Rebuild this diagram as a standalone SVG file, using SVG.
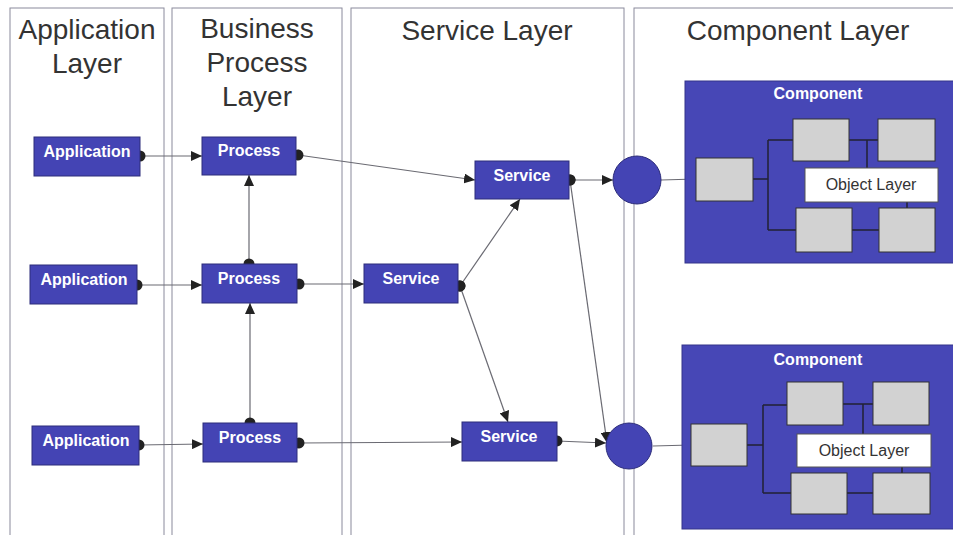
<svg xmlns="http://www.w3.org/2000/svg" width="953" height="535" viewBox="0 0 953 535">
<style>
.lane{fill:#ffffff;stroke:#8a8a9c;stroke-width:1}
.title{font-family:"Liberation Sans",Arial,sans-serif;font-size:28px;fill:#333333;text-anchor:middle}
.box{fill:#4444b4;stroke:#2c2c7a;stroke-width:1}
.lbl{font-family:"Liberation Sans",Arial,sans-serif;font-size:16px;font-weight:bold;fill:#ffffff;text-anchor:middle}
.comp{fill:#4747b6;stroke:#34348a;stroke-width:1}
.obj{fill:#d2d2d2;stroke:#333333;stroke-width:1}
.objlbl{fill:#ffffff;stroke:#555555;stroke-width:1}
.objtxt{font-family:"Liberation Sans",Arial,sans-serif;font-size:16px;fill:#333333;text-anchor:middle}
.port{fill:#4444b4;stroke:#2c2c7a;stroke-width:1}
.conn{stroke:#6a6a72;stroke-width:1.2;fill:none}
.arr{marker-start:url(#dot);marker-end:url(#arrow)}
.inner{stroke:#222233;stroke-width:1.5;fill:none}
</style>
<defs>
<marker id="arrow" markerUnits="userSpaceOnUse" markerWidth="12" markerHeight="10" refX="11" refY="5" orient="auto">
<path d="M0,0 L11,5 L0,10 z" fill="#222222"/>
</marker>
<marker id="dot" markerUnits="userSpaceOnUse" markerWidth="14" markerHeight="14" refX="7" refY="7" orient="auto">
<circle cx="7" cy="7" r="5.5" fill="#222222"/>
</marker>
</defs>
<rect width="953" height="535" fill="#ffffff"/>

<g id="lanes">
<g id="lane-application">
<rect class="lane" x="10" y="8" width="154" height="540"/>
<text class="title" x="87" y="39">Application</text>
<text class="title" x="87" y="73">Layer</text>
</g>
<g id="lane-business">
<rect class="lane" x="172" y="8" width="170" height="540"/>
<text class="title" x="257" y="38">Business</text>
<text class="title" x="257" y="72">Process</text>
<text class="title" x="257" y="106">Layer</text>
</g>
<g id="lane-service">
<rect class="lane" x="351" y="8" width="273" height="540"/>
<text class="title" x="487" y="40">Service Layer</text>
</g>
<g id="lane-component">
<rect class="lane" x="634" y="8" width="330" height="540"/>
<text class="title" x="798" y="40">Component Layer</text>
</g>
</g>

<g id="connectors">
<line class="conn arr" x1="140" y1="156" x2="202" y2="156"/>
<line class="conn arr" x1="137" y1="285" x2="202" y2="285"/>
<line class="conn arr" x1="139" y1="445" x2="203" y2="444"/>
<line class="conn arr" x1="249" y1="264" x2="249" y2="175"/>
<line class="conn arr" x1="250" y1="423" x2="250" y2="303"/>
<line class="conn arr" x1="298" y1="155" x2="475" y2="180"/>
<line class="conn arr" x1="299" y1="284" x2="364" y2="284"/>
<line class="conn arr" x1="299" y1="443" x2="462" y2="442"/>
<line class="conn arr" x1="460" y1="286" x2="520" y2="199"/>
<line class="conn arr" x1="460" y1="286" x2="508" y2="422"/>
<line class="conn arr" x1="570" y1="180" x2="613" y2="180"/>
<line class="conn arr" x1="570" y1="180" x2="607" y2="443"/>
<line class="conn arr" x1="557" y1="441" x2="606" y2="443"/>
<line class="conn" x1="661" y1="180" x2="696" y2="179"/>
<line class="conn" x1="653" y1="446" x2="691" y2="445"/>
</g>

<g id="app1"><rect class="box" x="34" y="137" width="106" height="39"/><text class="lbl" x="87" y="157">Application</text></g>
<g id="app2"><rect class="box" x="30" y="265" width="107" height="39"/><text class="lbl" x="84" y="285">Application</text></g>
<g id="app3"><rect class="box" x="32" y="426" width="107" height="39"/><text class="lbl" x="86" y="446">Application</text></g>

<g id="process1"><rect class="box" x="202" y="137" width="94" height="38"/><text class="lbl" x="249" y="156">Process</text></g>
<g id="process2"><rect class="box" x="202" y="264" width="95" height="39"/><text class="lbl" x="249" y="284">Process</text></g>
<g id="process3"><rect class="box" x="203" y="423" width="94" height="39"/><text class="lbl" x="250" y="443">Process</text></g>

<g id="service1"><rect class="box" x="475" y="161" width="94" height="38"/><text class="lbl" x="522" y="181">Service</text></g>
<g id="service2"><rect class="box" x="364" y="264" width="94" height="39"/><text class="lbl" x="411" y="284">Service</text></g>
<g id="service3"><rect class="box" x="462" y="422" width="95" height="39"/><text class="lbl" x="509" y="442">Service</text></g>

<g id="port1"><circle class="port" cx="637" cy="180" r="24"/></g>
<g id="port2"><circle class="port" cx="629" cy="446" r="23"/></g>

<g id="component1">
<rect class="comp" x="685" y="81" width="280" height="182"/>
<text class="lbl" x="818" y="99">Component</text>
<path class="inner" d="M753,179 H768 M768,140 V230 M768,140 H793 M768,230 H796 M849,140 H878 M867,140 V168 M852,230 H879 M907,202 V208"/>
<rect class="obj" x="696" y="158" width="57" height="43"/>
<rect class="obj" x="793" y="119" width="56" height="42"/>
<rect class="obj" x="878" y="119" width="57" height="42"/>
<rect class="obj" x="796" y="208" width="56" height="44"/>
<rect class="obj" x="879" y="208" width="56" height="44"/>
<rect class="objlbl" x="805" y="168" width="133" height="34"/>
<text class="objtxt" x="871" y="190">Object Layer</text>
</g>

<g id="component2">
<rect class="comp" x="682" y="345" width="280" height="184"/>
<text class="lbl" x="818" y="365">Component</text>
<path class="inner" d="M747,445 H763 M763,405 V493 M763,405 H787 M763,493 H791 M843,404 H873 M863,404 V434 M847,493 H873 M902,467 V473"/>
<rect class="obj" x="691" y="424" width="56" height="42"/>
<rect class="obj" x="787" y="382" width="56" height="43"/>
<rect class="obj" x="873" y="382" width="56" height="43"/>
<rect class="obj" x="791" y="473" width="56" height="41"/>
<rect class="obj" x="873" y="473" width="57" height="41"/>
<rect class="objlbl" x="797" y="434" width="134" height="33"/>
<text class="objtxt" x="864" y="456">Object Layer</text>
</g>
</svg>
